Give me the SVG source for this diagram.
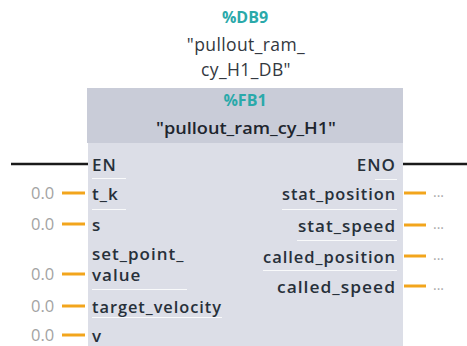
<svg xmlns="http://www.w3.org/2000/svg" width="467" height="346" viewBox="0 0 467 346">
<style>
.t{font-family:"Open Sans","DejaVu Sans",sans-serif;}
.teal{fill:#2aa9aa;font-weight:700;font-size:16px;}
.inst{fill:#333840;font-size:17.5px;letter-spacing:0.4px;}
.name{fill:#1e252e;font-weight:600;font-size:17px;}
.pin{fill:#27303a;font-weight:600;font-size:17px;letter-spacing:1px;}
.val{fill:#a3a3a3;font-size:16.5px;}
.dots{fill:#a8a8a8;font-size:14px;}
.or{stroke:#f2a51c;stroke-width:3;}
.bl{stroke:#1a1a1a;stroke-width:2.5;}
.sep{stroke:#ffffff;stroke-width:1;opacity:0.85;}
</style>
<g id="instance">
<text class="t teal" x="245" y="23" text-anchor="middle">%DB9</text>
<text class="t inst" x="246" y="51" text-anchor="middle">"pullout_ram_</text>
<text class="t inst" x="246" y="76" text-anchor="middle">cy_H1_DB"</text>
</g>
<g id="block">
<rect x="88" y="143" width="315" height="203" fill="#dcdee7"/>
<rect x="87" y="88" width="316" height="55" fill="#c9ccd8"/>
<text class="t teal" x="245" y="106" text-anchor="middle">%FB1</text>
<text class="t name" x="246" y="134" text-anchor="middle" textLength="180" lengthAdjust="spacingAndGlyphs">"pullout_ram_cy_H1"</text>
</g>
<g id="connectors">
<line class="bl" x1="11" y1="164" x2="88" y2="164"/>
<line class="bl" x1="403" y1="164" x2="467" y2="164"/>
<line class="or" x1="62" y1="193" x2="85" y2="193"/>
<line class="or" x1="62" y1="224" x2="85" y2="224"/>
<line class="or" x1="62" y1="274" x2="85" y2="274"/>
<line class="or" x1="62" y1="306" x2="85" y2="306"/>
<line class="or" x1="62" y1="335" x2="85" y2="335"/>
<line class="or" x1="404" y1="193" x2="426" y2="193"/>
<line class="or" x1="404" y1="225" x2="426" y2="225"/>
<line class="or" x1="404" y1="256" x2="426" y2="256"/>
<line class="or" x1="404" y1="286" x2="426" y2="286"/>
</g>
<g id="separators">
<line class="sep" x1="92" y1="178.5" x2="126" y2="178.5"/>
<line class="sep" x1="92" y1="209.5" x2="126" y2="209.5"/>
<line class="sep" x1="92" y1="289.5" x2="187" y2="289.5"/>
<line class="sep" x1="92" y1="317.5" x2="222" y2="317.5"/>
<line class="sep" x1="375" y1="179.5" x2="397" y2="179.5"/>
<line class="sep" x1="282" y1="209.5" x2="397" y2="209.5"/>
<line class="sep" x1="297" y1="240.5" x2="397" y2="240.5"/>
<line class="sep" x1="263" y1="270.5" x2="397" y2="270.5"/>
</g>
<g id="inputs">
<text class="t pin" x="92" y="171">EN</text>
<text class="t val" x="31" y="199">0.0</text>
<text class="t pin" x="92" y="200">t_k</text>
<text class="t val" x="31" y="230">0.0</text>
<text class="t pin" x="92" y="231">s</text>
<text class="t pin" x="92" y="260">set_point_</text>
<text class="t val" x="31" y="280">0.0</text>
<text class="t pin" x="92" y="281">value</text>
<text class="t val" x="31" y="312">0.0</text>
<text class="t pin" x="92" y="313" textLength="130" lengthAdjust="spacingAndGlyphs">target_velocity</text>
<text class="t val" x="31" y="341">0.0</text>
<text class="t pin" x="92" y="342">v</text>
</g>
<g id="outputs">
<text class="t pin" x="396" y="171" text-anchor="end">ENO</text>
<text class="t pin" x="396" y="200" text-anchor="end" textLength="114" lengthAdjust="spacingAndGlyphs">stat_position</text>
<text class="t dots" x="433" y="197">...</text>
<text class="t pin" x="396" y="232" text-anchor="end" textLength="98" lengthAdjust="spacingAndGlyphs">stat_speed</text>
<text class="t dots" x="433" y="229">...</text>
<text class="t pin" x="396" y="263" text-anchor="end" textLength="133" lengthAdjust="spacingAndGlyphs">called_position</text>
<text class="t dots" x="433" y="260">...</text>
<text class="t pin" x="396" y="293" text-anchor="end" textLength="119" lengthAdjust="spacingAndGlyphs">called_speed</text>
<text class="t dots" x="433" y="290">...</text>
</g>
</svg>
